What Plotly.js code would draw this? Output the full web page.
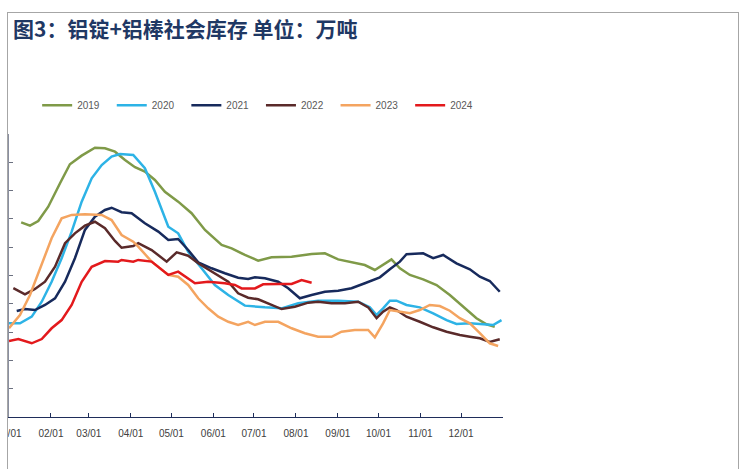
<!DOCTYPE html>
<html>
<head>
<meta charset="utf-8">
<script src="https://cdn.plot.ly/plotly-3.0.1.min.js"></script>
<style>
  html, body { margin: 0; padding: 0; background: #ffffff; }
  body { width: 744px; height: 469px; position: relative; overflow: hidden; }
  #frame { position: absolute; left: 7px; top: 12px; width: 730px; height: 470px;
           border-top: 1px solid #a6a6a6; border-left: 1px solid #a6a6a6; border-right: 1px solid #a6a6a6; }
  #title { position: absolute; left: 13px; top: 18px; font-family: "Noto Sans CJK SC", sans-serif;
           font-weight: bold; font-size: 21px; line-height: 21px; color: #1f3864; white-space: nowrap; }
  #chart { position: absolute; left: 8px; top: 0px; width: 736px; height: 469px; }
</style>
</head>
<body>
<div id="frame"></div>
<div id="title">图3：铝锭+铝棒社会库存 单位：万吨</div>
<div id="chart"></div>
<script>
// x = day of year (0 = Jan 1), y = 万吨
const seriesNames = ["2019", "2020", "2021", "2022", "2023", "2024"];

const day2019 = [9, 15.5, 21.6, 29, 37.7, 45, 53.7, 63.5, 70.9, 78.3, 85.7, 93.1, 100.4, 107.8, 115.2, 125, 134.9, 144.8, 157.1, 164.5, 174.3, 184.1, 194, 208.8, 223.6, 233.4, 243.2, 255.5, 262.9, 270.3, 276.4, 282.6, 288.8, 296.2, 306, 315.9, 325.7, 335.5, 345.4, 352.8, 358.9];
const val2019 = [137.6, 135.2, 138.5, 148.6, 165.2, 178.6, 184.7, 190.3, 189.9, 187.5, 181.6, 176.5, 173.4, 167.5, 159.2, 152.2, 144.0, 132.2, 121.6, 119.2, 114.5, 110.5, 112.9, 113.3, 115.2, 115.7, 111.4, 108.6, 107.4, 103.9, 107.4, 111.4, 105.1, 100.4, 97.3, 93.3, 86.2, 77.9, 69.8, 65.5, 63.8];

const day2020 = [0, 8.1, 16.8, 24.2, 31.5, 38.9, 46.3, 53.7, 61.1, 68.5, 75.8, 82, 91.8, 100.4, 107.8, 117.7, 125, 132.4, 142.3, 152.1, 162, 174.3, 189.1, 201.4, 213.7, 228.4, 243.2, 258, 266.6, 271.6, 276.4, 281.4, 286.3, 293.7, 303.5, 313.4, 323.3, 330.6, 340.5, 350.3, 357.7, 363.9];
const val2020 = [66.2, 66.2, 70.9, 81.5, 95.6, 112.2, 131.0, 152.2, 168.7, 178.1, 184.0, 185.9, 185.2, 175.8, 159.2, 134.5, 129.8, 116.8, 105.1, 93.3, 86.2, 78.7, 77.5, 76.8, 80.4, 82.2, 82.2, 81.5, 77.5, 72.1, 76.8, 82.2, 82.2, 79.2, 77.5, 73.3, 68.5, 65.7, 66.2, 65.7, 65.0, 68.5];

const day2021 = [5.7, 11.8, 19.2, 26.6, 34, 41.4, 48.7, 56.1, 63.5, 70.9, 75.8, 83.2, 90.6, 100.4, 110.3, 117.7, 125, 132.4, 139.8, 149.7, 159.5, 169.3, 176.7, 181.7, 189.1, 198.9, 206.3, 214.9, 223.6, 233.4, 243.2, 253.1, 262.9, 270.3, 274, 281.4, 288.8, 293.7, 306, 313.4, 320.8, 330.6, 340.5, 347.9, 355.2, 362.6];
const val2021 = [74.9, 76.3, 75.6, 79.2, 83.9, 95.6, 112.2, 132.2, 141.6, 146.3, 147.9, 144.7, 144.0, 136.9, 131.0, 125.1, 125.8, 118.0, 109.3, 105.1, 101.6, 98.4, 97.5, 98.7, 98.0, 95.6, 91.0, 83.9, 86.2, 88.5, 89.3, 91.0, 94.5, 97.3, 98.7, 104.4, 109.8, 115.0, 115.7, 112.2, 114.5, 108.6, 104.4, 99.1, 96.1, 88.5];

const day2022 = [3.2, 11.8, 19.2, 26.6, 34, 41.4, 48.7, 56.1, 63.5, 70.9, 78.3, 83.2, 91.8, 95.5, 105.4, 116.5, 123.9, 132.4, 139.8, 149.7, 154.6, 162, 169.3, 176.7, 184.1, 191.5, 201.4, 211.2, 221.1, 228.4, 238.3, 248.2, 258, 265.4, 271.6, 276.4, 281.4, 286.3, 293.7, 303.5, 313.4, 323.3, 333.1, 340.5, 347.9, 355.2, 362.6];
const val2022 = [91.0, 86.7, 90.5, 95.6, 106.2, 122.8, 129.8, 135.2, 138.0, 133.4, 124.4, 119.6, 120.8, 122.8, 118.0, 109.8, 116.4, 114.0, 108.6, 102.7, 100.4, 95.6, 87.4, 84.3, 83.2, 80.4, 76.3, 77.9, 80.8, 81.5, 80.4, 80.4, 81.5, 77.5, 69.8, 74.4, 77.5, 75.6, 70.9, 67.3, 63.4, 60.3, 57.9, 56.7, 55.6, 53.0, 54.9];

const day2023 = [0, 8.1, 15.5, 22.9, 31.5, 38.9, 46.3, 56.1, 68.5, 75.8, 83.2, 91.8, 95.5, 105.4, 112.8, 117.7, 125, 132.4, 139.8, 147.2, 154.6, 162, 169.3, 176.7, 181.7, 189.1, 198.9, 208.8, 218.6, 228.4, 238.3, 245.7, 255.5, 265.4, 270.3, 276.4, 281.4, 288.8, 296.2, 303.5, 310.9, 318.3, 325.7, 333.1, 340.5, 347.9, 355.2, 361.4];
const val2023 = [62.7, 72.1, 86.2, 105.1, 126.3, 140.4, 142.8, 143.2, 142.8, 139.2, 128.6, 123.9, 120.4, 109.8, 103.9, 100.4, 99.1, 93.3, 83.9, 76.8, 70.9, 67.3, 65.0, 67.3, 65.0, 67.3, 67.3, 62.7, 59.2, 56.7, 56.7, 60.3, 61.5, 61.5, 56.3, 66.2, 75.6, 74.4, 73.3, 75.6, 79.2, 78.4, 75.1, 69.8, 66.2, 59.2, 52.1, 50.2];

const day2024 = [0, 6.9, 16.8, 24.2, 31.5, 38.9, 46.3, 53.7, 61.1, 70.9, 80.7, 83.2, 91.8, 95.5, 105.4, 112.8, 117.7, 125, 132.4, 137.4, 147.2, 159.5, 166.9, 171.9, 181.7, 187.8, 198.9, 208.8, 216.2, 223.6];
const val2024 = [53.7, 55.1, 52.1, 55.1, 62.7, 68.5, 79.2, 95.6, 106.2, 110.2, 109.8, 111.0, 109.8, 111.0, 109.8, 103.9, 100.4, 102.7, 98.0, 94.5, 95.6, 94.5, 93.3, 90.9, 90.9, 93.8, 94.0, 94.0, 96.8, 94.9];

const tickDays = [0, 31, 59, 90, 120, 151, 181, 212, 243, 273, 304, 334, 365];
const tickLabels = ["01/01", "02/01", "03/01", "04/01", "05/01", "06/01", "07/01", "08/01", "09/01", "10/01", "11/01", "12/01", ""];
const yTicks = [0, 20, 40, 60, 80, 100, 120, 140, 160, 180, 200];

const colors = ["#7f9a48", "#2db3e6", "#172a5c", "#5a2a2a", "#f4a460", "#e3191c"];
const xs = [day2019, day2020, day2021, day2022, day2023, day2024];
const ys = [val2019, val2020, val2021, val2022, val2023, val2024];

const traces = seriesNames.map((n, i) => ({
  type: "scatter", mode: "lines", name: n, x: xs[i], y: ys[i],
  line: { color: colors[i], width: 2.5 }
}));

const layout = {
  width: 736, height: 469,
  margin: { l: 1, r: 241, t: 134, b: 52 },
  paper_bgcolor: "rgba(0,0,0,0)", plot_bgcolor: "rgba(0,0,0,0)",
  showlegend: true,
  legend: {
    orientation: "h", x: 0.057, xanchor: "left", y: 1.102, yanchor: "middle",
    font: { family: "Liberation Sans, Arial, sans-serif", size: 10, color: "#595959" },
    entrywidth: 29.6, entrywidthmode: "pixels", traceorder: "normal",
    bgcolor: "rgba(0,0,0,0)"
  },
  xaxis: {
    range: [0, 365], tickmode: "array", tickvals: tickDays, ticktext: tickLabels,
    showgrid: false, zeroline: false, showline: true, linecolor: "#1f2d5a", linewidth: 1,
    ticks: "inside", ticklen: 4, tickcolor: "#1f2d5a", tickwidth: 1,
    ticklabeloverflow: "allow", ticklabelstandoff: 7,
    tickfont: { family: "Liberation Sans, Arial, sans-serif", size: 10, color: "#404040" },
    fixedrange: true
  },
  yaxis: {
    range: [0, 200], tickmode: "array", tickvals: yTicks, showticklabels: false,
    showgrid: false, zeroline: false, showline: true, linecolor: "#8a8fa0", linewidth: 2.5,
    ticks: "inside", ticklen: 4, tickcolor: "#6b7080", tickwidth: 1,
    fixedrange: true
  }
};

Plotly.newPlot("chart", traces, layout, { displayModeBar: false, staticPlot: true });
</script>
</body>
</html>
